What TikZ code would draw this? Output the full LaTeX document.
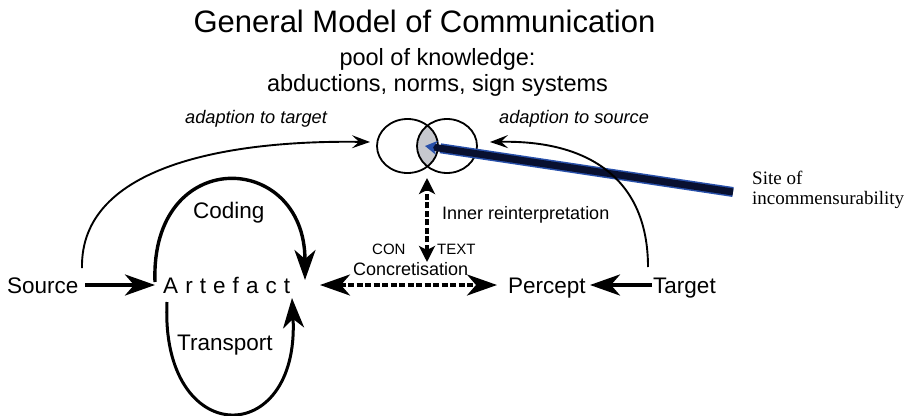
\documentclass[tikz,border=0pt]{standalone}
\usepackage{fontspec}
\setmainfont{Liberation Sans}
\newfontfamily\timesf{Liberation Serif}
\usetikzlibrary{arrows.meta,calc}
\definecolor{lensgrey}{RGB}{198,200,206}
\definecolor{navyline}{RGB}{8,16,48}
\definecolor{blueglow}{RGB}{40,80,170}
\tikzset{
  lbl/.style={inner sep=0pt, anchor=base west},
  body/.style={lbl, font=\fontsize{22.5}{26}\selectfont},
  small/.style={lbl, font=\fontsize{18}{21}\selectfont},
  ital/.style={lbl, font=\fontsize{18.2}{21}\selectfont\itshape},
  caps/.style={lbl, font=\fontsize{15}{18}\selectfont},
  sitetxt/.style={lbl, font=\fontsize{19}{17}\timesf},
  bigtip/.tip={Stealth[length=30pt,width=21pt,inset=9pt]},
  midtip/.tip={Stealth[length=16pt,width=16pt,inset=4pt]},
  thintip/.tip={Stealth[length=18pt,width=13pt,inset=7pt]},
  thickarrow/.style={line width=4pt, -bigtip},
  loop/.style={line width=3.4pt, -bigtip},
  thinarrow/.style={line width=1.9pt, -thintip},
  dasharrow/.style={line width=3.6pt, dash pattern=on 6pt off 2.5pt, bigtip-bigtip},
  vdasharrow/.style={line width=3.6pt, dash pattern=on 6pt off 2.5pt, midtip-midtip},
  ring/.style={line width=1.8pt}
}
\begin{document}
\begin{tikzpicture}[x=1pt,y=-1pt]
\path[use as bounding box] (0,0) rectangle (910,415);

% titles
\node[inner sep=0pt, anchor=base, font=\fontsize{31}{36}\selectfont] (title) at (424.5,32) {General Model of Communication};
\node[inner sep=0pt, anchor=base, font=\fontsize{23.5}{28}\selectfont] (pool) at (437.5,65) {pool of knowledge:};
\node[inner sep=0pt, anchor=base, font=\fontsize{23.5}{28}\selectfont] (abd) at (437.5,91) {abductions, norms, sign systems};

\node[ital] (adt) at (185,123) {adaption to target};
\node[ital] (ads) at (499,123) {adaption to source};

% pool circles
\coordinate (cl) at (407.5,146);
\coordinate (cr) at (447,146);
\begin{scope}
  \clip (cl) ellipse [x radius=30.5, y radius=27];
  \fill[lensgrey] (cr) ellipse [x radius=30, y radius=27];
\end{scope}
\draw[ring] (cl) ellipse [x radius=30.5, y radius=27];
\draw[ring] (cr) ellipse [x radius=30, y radius=27];
\coordinate (lens) at (425,146);
\coordinate (lensbot) at (427,178);

% site of incommensurability
\node[sitetxt] (site1) at (752,184) {Site of};
\node[sitetxt] (site2) at (752,204) {incommensurability};
\coordinate (siteend) at (733,192);
\draw[line width=10pt, blueglow] (siteend) -- ($(lens)!0.05!(siteend)$);
\draw[line width=7pt, navyline, -{Stealth[length=12pt,width=14pt,color=blueglow]}] (siteend) -- (lens);

% main row
\node[body, text depth=0pt] (source) at (7,293) {Source};
\node[body, text depth=0pt] (artefact) at (163,293) {\hbox to 127pt{A\hfil r\hfil t\hfil e\hfil f\hfil a\hfil c\hfil t}};
\node[body] (percept) at (508,293) {Percept};
\node[body] (target) at (653,293) {Target};

\node[body] (coding) at (193,218) {Coding};
\node[body] (transport) at (177,350) {Transport};
\node[small] (inner) at (442,219) {Inner reinterpretation};
\node[caps] (con) at (372,254) {CON};
\node[caps] (text) at (437,254) {TEXT};
\node[small] (concr) at (353,275) {Concretisation};

% connectors
\coordinate (srcR) at (85,285);
\coordinate (artL) at (155,285);
\draw[thickarrow] (srcR) -- (artL);

\coordinate (tgtL) at (652,285);
\coordinate (perR) at (590,285);
\draw[thickarrow] (tgtL) -- (perR);

\coordinate (artR) at (320,285);
\coordinate (perL) at (497,285);
\draw[dasharrow] (artR) -- (perL);

\coordinate (ctxt) at (427,262);
\draw[vdasharrow] (ctxt) -- (lensbot);

% coding / transport loops
\coordinate (codeS) at (155,282);
\coordinate (codeE) at (305,280);
\draw[loop] (codeS) .. controls (150,145) and (305,150) .. (codeE);
\coordinate (transS) at (167,302);
\coordinate (transE) at (292,298);
\draw[loop, line width=3pt] (transS) .. controls (160,450) and (300,450) .. (transE);

% adaption arrows
\coordinate (srcTop) at (82,268);
\coordinate (poolL) at (370,142);
\draw[thinarrow] (srcTop) .. controls (80,165) and (230,140) .. (poolL);
\coordinate (tgtTop) at (648,267);
\coordinate (poolR) at (490,142);
\draw[thinarrow] (tgtTop) .. controls (648,180) and (590,140) .. (poolR);
\end{tikzpicture}
\end{document}
